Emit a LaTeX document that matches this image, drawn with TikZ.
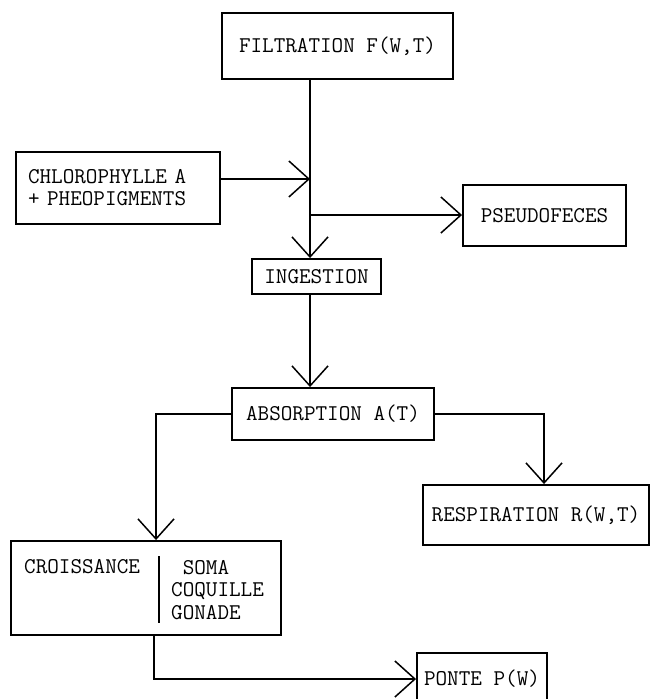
\documentclass[tikz,border=0pt]{standalone}
\usetikzlibrary{arrows.meta}

\tikzset{
  box/.style={draw, line width=1.9pt, inner sep=0pt, font=\fontsize{22.5pt}{22pt}\ttfamily},
  flow/.style={line width=1.5pt, -{Straight Barb[length=20pt,width=36pt,line width=1.5pt]}},
  plain/.style={line width=1.5pt}
}

\begin{document}
\begin{tikzpicture}[x=1pt,y=-1pt]
\useasboundingbox (0,0) rectangle (650,699);
\clip (0,0) rectangle (650,699);

\node [box,minimum width=231pt,minimum height=66pt] (filtration) at (337.5,46) {FILTRATION F(W,T)};
\node [box,minimum width=204pt,minimum height=72pt,text width=180pt,align=left] (chloro) at (118,188) {CHLOROPHYLLE A\\+ PHEOPIGMENTS};
\node [box,minimum width=163pt,minimum height=61pt] (pseudo) at (544.5,215.5) {PSEUDOFECES};
\node [box,minimum width=129pt,minimum height=35pt] (ingestion) at (316.5,276.5) {INGESTION};
\node [box,minimum width=202pt,minimum height=52pt] (absorption) at (333,414) {ABSORPTION A(T)};
\node [box,minimum width=226pt,minimum height=60pt] (respiration) at (536,515) {RESPIRATION R(W,T)};
\node [box,minimum width=270pt,minimum height=94pt] (croissance) at (146,588) {};
\node [box,minimum width=130pt,minimum height=52pt] (ponte) at (482,679) {PONTE P(W)};

% croissance box contents
\node [font=\fontsize{22.5pt}{22pt}\ttfamily,anchor=west,inner sep=0pt] (croisLabel) at (24,567) {CROISSANCE};
\node [font=\fontsize{22.5pt}{22.5pt}\ttfamily,anchor=north west,align=left,inner sep=0pt] (croisParts) at (171,560) {\ SOMA\\COQUILLE\\GONADE};
\draw [plain] (159,556) -- (159,623);

\coordinate (jChl) at (310,179);
\coordinate (jPse) at (310,215);

\draw [flow] (filtration.south -| jChl) -- (ingestion.north -| jChl);
\draw [flow] (chloro.east |- jChl) -- (jChl);
\draw [flow] (jPse) -- (pseudo.west |- jPse);
\draw [flow] (ingestion.south -| jChl) -- (absorption.north -| jChl);
\draw [flow] (absorption.west) -| ([xshift=10pt]croissance.north);
\draw [flow] (absorption.east) -| ([xshift=8pt]respiration.north);
\draw [flow] ([xshift=8pt]croissance.south) |- (ponte.west);
\end{tikzpicture}
\end{document}
